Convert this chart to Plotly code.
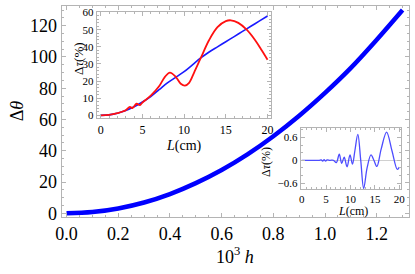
import plotly.graph_objects as go

# main curve
h_vals = [0.0, 0.1, 0.2, 0.3, 0.4, 0.5, 0.6, 0.7, 0.8, 0.9, 1.0, 1.1, 1.2, 1.3]
dtheta = [0.0, 0.8, 3.1, 6.9, 12.3, 19.3, 27.7, 37.7, 49.3, 62.4, 77.0, 93.0, 111.0, 130.0]

# inset 1
L_blue = [0, 1, 2, 3, 4, 5, 6, 7, 8, 9, 10, 11, 12, 13, 14, 15, 16, 17, 18, 19, 20]
tau_blue = [0, 0.3, 1.2, 2.8, 5.0, 7.8, 11.0, 15.0, 19.0, 22.2, 25.5, 29.5, 33.5, 37.0, 40.0, 43.0, 46.0, 49.0, 52.0, 55.0, 58.0]
L_red = [0, 1, 2, 3, 3.5, 3.8, 4.3, 4.7, 5, 6, 7, 7.7, 8.3, 9, 9.6, 10.1, 10.6, 11.2, 12, 13, 14, 15, 15.6, 16.5, 17.5, 18.5, 19.3, 20]
tau_red = [0, 0.3, 1.3, 3.0, 5.0, 4.2, 6.8, 6.0, 7.5, 11.5, 17.0, 22.5, 25.0, 22.5, 18.5, 17.4, 19.0, 25.0, 33.5, 44.0, 51.5, 55.0, 55.5, 54.0, 50.0, 44.0, 38.0, 32.5]

# inset 2
L_diff = [0, 3.5, 4.0, 4.3, 4.6, 4.9, 5.2, 5.8, 6.5, 7.1, 7.7, 8.2, 8.7, 9.3, 9.9, 10.4, 10.9, 11.5, 12.1, 12.7, 13.4, 14.2, 14.8, 15.4, 16.3, 17.4, 18.5, 19.6, 20.0]
tau_diff = [0, 0, 0.01, -0.02, 0.02, -0.02, 0.01, 0, 0, -0.06, 0.16, -0.08, 0.08, -0.17, 0.14, -0.10, 0.25, 0.68, 0.0, -0.74, -0.2, 0.14, 0.0, -0.16, 0.3, 0.74, 0.25, -0.24, -0.18]

W, H = 415, 274
def px_x(a): return a / W
def px_y(b): return 1 - b / H

FONT = "Liberation Serif"
frame = "#b4b4b4"

fig = go.Figure()
fig.add_trace(go.Scatter(x=h_vals, y=dtheta, mode="lines", line=dict(color="#0000ff", width=4.5, shape="spline"),
                         xaxis="x", yaxis="y", showlegend=False, hoverinfo="skip"))
fig.add_trace(go.Scatter(x=L_blue, y=tau_blue, mode="lines", line=dict(color="#1a1aff", width=1.6, shape="spline"),
                         xaxis="x2", yaxis="y2", showlegend=False, hoverinfo="skip"))
fig.add_trace(go.Scatter(x=L_red, y=tau_red, mode="lines", line=dict(color="#ff1010", width=1.8, shape="spline"),
                         xaxis="x2", yaxis="y2", showlegend=False, hoverinfo="skip"))
fig.add_trace(go.Scatter(x=L_diff, y=tau_diff, mode="lines", line=dict(color="#4d4dff", width=1.3, shape="spline"),
                         xaxis="x3", yaxis="y3", showlegend=False, hoverinfo="skip"))

def ax(domain, rng, dtick, size, minor_dtick=None, zeroline=False, anchor=None):
    d = dict(domain=domain, range=rng, dtick=dtick, tick0=0, showgrid=False, zeroline=zeroline,
             zerolinecolor="#d0d0d0", zerolinewidth=1,
             showline=True, linecolor=frame, linewidth=1, mirror="ticks",
             ticks="inside", ticklen=4, tickcolor=frame, tickwidth=1,
             tickfont=dict(family=FONT, size=size, color="black"), anchor=anchor)
    if minor_dtick:
        d["minor"] = dict(dtick=minor_dtick, ticks="inside", ticklen=2, tickcolor=frame)
    return d

fig.update_layout(
    width=W, height=H, margin=dict(l=0, r=0, t=0, b=0),
    paper_bgcolor="white", plot_bgcolor="white",
    font=dict(family=FONT),
    xaxis=ax([px_x(57), px_x(413)], [-0.019, 1.325], 0.2, 18, 0.05, anchor="y"),
    yaxis=ax([px_y(221), px_y(1.5)], [-2.45, 132.3], 20, 18, 5, anchor="x"),
    xaxis2=ax([px_x(93), px_x(272)], [-0.47, 20.47], 5, 12, 1, anchor="y2"),
    yaxis2=ax([px_y(118), px_y(7)], [-1.67, 60.5], 10, 11, 2, anchor="x2"),
    xaxis3=ax([px_x(302), px_x(405)], [-0.2, 20.4], 5, 11, 1, anchor="y3"),
    yaxis3=ax([px_y(192), px_y(128)], [-0.76, 0.85], 0.6, 11, 0.2, zeroline=True, anchor="x3"),
)
fig.update_layout(xaxis=dict(tickformat=".1f"), xaxis3=dict(tickformat="d"), yaxis3=dict(tickformat=".1~f"))

# white backgrounds for insets
for (x0, x1, y0, y1) in [(93, 272, 118, 7), (302, 405, 192, 128)]:
    fig.add_shape(type="rect", xref="paper", yref="paper", x0=px_x(x0), x1=px_x(x1), y0=px_y(y0), y1=px_y(y1),
                  fillcolor="white", line=dict(width=0), layer="below")

ann = [
    ("Δ<i>θ</i>", 11, 110, -90, 18),
    ("10<sup>3</sup> <i>h</i>", 235, 261, 0, 18),
    ("Δ<i>τ</i>(%)", 75, 56, -90, 13),
    ("<i>L</i>(cm)", 182, 147, 0, 14),
    ("Δ<i>τ</i>(%)", 267, 164, -90, 12),
    ("<i>L</i>(cm)", 356, 215, 0, 12),
]
for text, x, y, ang, sz in ann:
    fig.add_annotation(text=text, x=px_x(x), y=px_y(y), xref="paper", yref="paper", showarrow=False,
                       textangle=ang, xanchor="center", yanchor="middle",
                       font=dict(family=FONT, size=sz, color="black"))

fig.write_html("out.html", config={"displayModeBar": False},
               post_script="document.body.style.margin='0';document.body.style.padding='0';")
